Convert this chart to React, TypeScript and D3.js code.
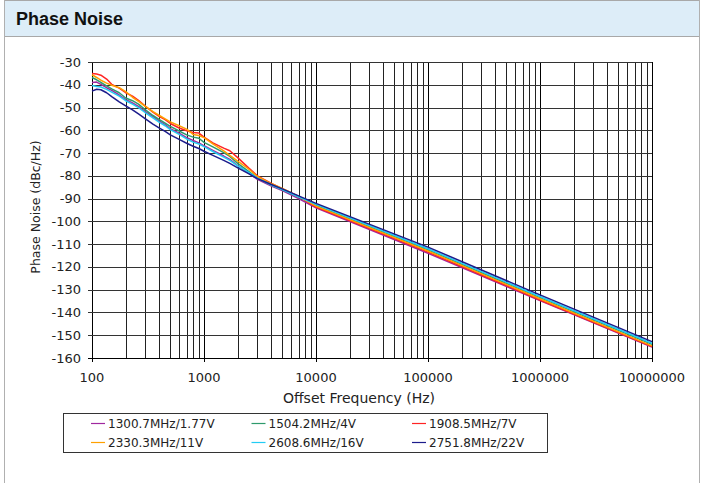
import React, { useEffect, useRef } from 'react';
import * as d3 from 'd3';

// offset frequencies (Hz) at which the curves were read
const freqs = [100, 110, 120, 135, 150, 175, 200, 230, 260, 300, 350, 400, 450, 500, 600, 700, 800, 900, 1000, 1200, 1500, 1700, 2000, 2500, 3000, 4000, 5000, 7000, 10000, 100000, 1000000, 10000000];

const s1300 = [-39.0, -38.8, -39.8, -41.3, -42.5, -44.5, -46.5, -48.0, -49.5, -51.8, -54.0, -56.0, -57.5, -59.3, -61.3, -63.2, -64.5, -65.5, -66.8, -68.8, -71.3, -72.8, -75.5, -78.8, -81.5, -84.5, -86.5, -90.0, -94.0, -114.0, -134.8, -155.2];
const s1504 = [-36.8, -37.8, -39.0, -40.5, -41.8, -43.5, -45.8, -47.0, -48.5, -51.0, -53.5, -55.3, -56.8, -58.3, -60.3, -62.0, -63.0, -63.5, -65.3, -67.3, -69.8, -71.5, -74.5, -78.0, -81.0, -84.0, -86.0, -89.3, -93.0, -112.5, -133.5, -154.0];
const s1908 = [-35.0, -35.3, -35.8, -37.5, -39.8, -41.5, -43.5, -45.0, -46.8, -49.5, -52.0, -54.0, -55.3, -57.0, -59.0, -60.2, -61.0, -61.2, -63.0, -65.5, -67.8, -69.0, -72.0, -76.5, -80.0, -83.3, -85.6, -89.0, -93.7, -113.5, -134.5, -155.0];
const s2330 = [-35.6, -36.8, -38.0, -39.3, -40.2, -41.3, -43.0, -45.5, -47.3, -49.5, -51.8, -53.5, -55.0, -56.3, -58.0, -59.5, -61.8, -62.3, -63.2, -66.0, -69.0, -71.0, -73.5, -77.0, -80.3, -83.5, -85.5, -89.0, -93.3, -113.0, -134.0, -154.7];
const s2608 = [-40.3, -40.8, -41.0, -42.0, -43.2, -45.0, -47.0, -48.5, -50.0, -52.3, -54.5, -56.5, -58.0, -59.7, -61.8, -63.8, -65.2, -66.0, -67.2, -69.3, -71.8, -73.2, -75.6, -78.5, -81.0, -84.0, -86.0, -89.2, -92.5, -112.0, -133.0, -153.5];
const s2751 = [-42.8, -42.0, -42.2, -43.5, -45.2, -47.5, -49.3, -51.0, -52.8, -55.0, -57.3, -59.0, -60.5, -62.0, -64.0, -65.7, -67.0, -68.0, -69.2, -71.0, -73.2, -74.5, -76.5, -79.0, -81.2, -83.8, -85.7, -88.8, -92.1, -111.3, -132.3, -152.8];

const seriesNames = ['1300.7MHz/1.77V', '1504.2MHz/4V', '1908.5MHz/7V', '2330.3MHz/11V', '2608.6MHz/16V', '2751.8MHz/22V'];
const seriesValues = [s1300, s1504, s1908, s2330, s2608, s2751];
const seriesColors = ['#a0289f', '#2e9a6c', '#ff2424', '#ffa000', '#22ccf4', '#1c1c8c'];

const yTicks = d3.range(-30, -161, -10);
const xDecades = [100, 1000, 10000, 100000, 1000000, 10000000];

function App() {
  const chartRef = useRef<SVGSVGElement>(null);

  useEffect(() => {
    const svg = d3.select(chartRef.current);
    svg.selectAll('*').remove();

    const width = 705;
    const height = 483;
    const plot = { left: 92, right: 652, top: 62, bottom: 358 };
    const font = '"DejaVu Sans", Verdana, sans-serif';

    // panel frame and title bar
    svg.append('rect').attr('x', 0).attr('y', 0).attr('width', width).attr('height', height).attr('fill', '#fff');
    svg.append('rect')
      .attr('x', 4.5).attr('y', 0.5).attr('width', 695).attr('height', 36)
      .attr('fill', '#ddedf8').attr('stroke', '#a8a8a8');
    svg.append('line').attr('x1', 4.5).attr('x2', 4.5).attr('y1', 0).attr('y2', height).attr('stroke', '#b0b0b0');
    svg.append('line').attr('x1', 699.5).attr('x2', 699.5).attr('y1', 0).attr('y2', height).attr('stroke', '#b0b0b0');
    svg.append('text')
      .attr('x', 16).attr('y', 25)
      .style('font-family', 'Arial, "Liberation Sans", sans-serif')
      .style('font-weight', 'bold')
      .style('font-size', '18px')
      .attr('fill', '#111')
      .text('Phase Noise');

    const x = d3.scaleLog().domain([100, 10000000]).range([plot.left, plot.right]);
    const y = d3.scaleLinear().domain([-160, -30]).range([plot.bottom, plot.top]);

    // vertical grid (decades and 2..9 minors)
    const minors: number[] = [];
    for (let d = 100; d < 10000000; d *= 10) {
      for (let k = 2; k <= 9; k++) minors.push(d * k);
    }
    const grid = svg.append('g');
    grid.selectAll('line.minor')
      .data(minors)
      .enter()
      .append('line')
      .attr('x1', (d) => Math.round(x(d)) + 0.5)
      .attr('x2', (d) => Math.round(x(d)) + 0.5)
      .attr('y1', plot.top)
      .attr('y2', plot.bottom)
      .attr('stroke', '#222')
      .attr('stroke-width', 1);
    grid.selectAll('line.major')
      .data(xDecades)
      .enter()
      .append('line')
      .attr('x1', (d) => Math.round(x(d)) + 0.5)
      .attr('x2', (d) => Math.round(x(d)) + 0.5)
      .attr('y1', plot.top)
      .attr('y2', plot.bottom + 4)
      .attr('stroke', '#000')
      .attr('stroke-width', 1);

    // horizontal grid
    grid.selectAll('line.h')
      .data(yTicks)
      .enter()
      .append('line')
      .attr('x1', plot.left - 4)
      .attr('x2', plot.right)
      .attr('y1', (d) => Math.round(y(d)) + 0.5)
      .attr('y2', (d) => Math.round(y(d)) + 0.5)
      .attr('stroke', (d) => (d === -160 ? '#000' : '#333'))
      .attr('stroke-width', 1.2);

    // y tick labels
    svg.append('g')
      .selectAll('text')
      .data(yTicks)
      .enter()
      .append('text')
      .attr('x', 81)
      .attr('y', (d) => y(d) + 4.5)
      .attr('text-anchor', 'end')
      .style('font-family', font)
      .style('font-size', '13px')
      .attr('fill', '#222')
      .text((d) => String(d));

    // x tick labels
    svg.append('g')
      .selectAll('text')
      .data(xDecades)
      .enter()
      .append('text')
      .attr('x', (d) => x(d))
      .attr('y', 382)
      .attr('text-anchor', 'middle')
      .style('font-family', font)
      .style('font-size', '13px')
      .attr('fill', '#222')
      .text((d) => String(d));

    // axis titles
    svg.append('text')
      .attr('x', 359)
      .attr('y', 403)
      .attr('text-anchor', 'middle')
      .style('font-family', font)
      .style('font-size', '14px')
      .attr('fill', '#222')
      .text('Offset Frequency (Hz)');

    svg.append('text')
      .attr('transform', 'translate(40,207) rotate(-90)')
      .attr('text-anchor', 'middle')
      .style('font-family', font)
      .style('font-size', '12.5px')
      .attr('fill', '#222')
      .text('Phase Noise (dBc/Hz)');

    // series lines
    const line = d3
      .line<number>()
      .x((_, i) => x(freqs[i]))
      .y((d) => y(d));

    svg.append('g')
      .selectAll('path')
      .data(seriesValues)
      .enter()
      .append('path')
      .attr('fill', 'none')
      .attr('stroke', (_, i) => seriesColors[i])
      .attr('stroke-width', 1.5)
      .attr('stroke-linejoin', 'round')
      .attr('d', (d) => line(d));

    // legend
    const legend = svg.append('g');
    legend.append('rect')
      .attr('x', 63.5).attr('y', 413.5).attr('width', 484).attr('height', 39)
      .attr('fill', '#fff').attr('stroke', '#333');
    seriesNames.forEach((name, i) => {
      const col = i % 3;
      const row = Math.floor(i / 3);
      const lx = 91 + col * 160.5;
      const ly = 423.5 + row * 19;
      legend.append('line')
        .attr('x1', lx).attr('x2', lx + 14)
        .attr('y1', ly).attr('y2', ly)
        .attr('stroke', seriesColors[i])
        .attr('stroke-width', 1.2);
      legend.append('text')
        .attr('x', lx + 17)
        .attr('y', ly + 4.5)
        .style('font-family', font)
        .style('font-size', '12px')
        .attr('fill', '#222')
        .text(name);
    });
  }, []);

  return (
    <div style={{ position: 'absolute', left: 0, top: 0 }}>
      <svg ref={chartRef} width={705} height={483} style={{ display: 'block' }}></svg>
    </div>
  );
}

export default App;
